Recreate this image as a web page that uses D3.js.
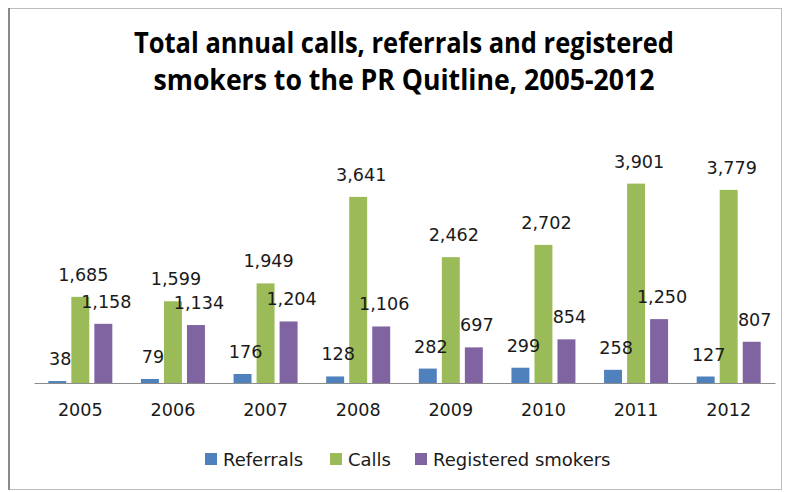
<!DOCTYPE html>
<html>
<head>
<meta charset="utf-8">
<script src="https://cdn.jsdelivr.net/npm/d3@7"></script>
<style>
  body { margin: 0; background: #fff; }
  text { font-family: "DejaVu Sans", sans-serif; fill: #1a1a1a; }
</style>
</head>
<body>
<div id="chart"></div>
<script>
// chart values
var years = ["2005", "2006", "2007", "2008", "2009", "2010", "2011", "2012"];
var referrals = [38, 79, 176, 128, 282, 299, 258, 127];
var calls = [1685, 1599, 1949, 3641, 2462, 2702, 3901, 3779];
var smokers = [1158, 1134, 1204, 1106, 697, 854, 1250, 807];
var seriesNames = ["Referrals", "Calls", "Registered smokers"];
var seriesColors = ["#4f81bd", "#9bbb59", "#8064a2"];
var titleLines = ["Total annual calls, referrals and registered",
                  "smokers to the PR Quitline, 2005-2012"];

var width = 786, height = 492;
var plot = { left: 34, right: 775, top: 153, bottom: 383 };

var svg = d3.select("#chart").append("svg")
    .attr("width", width)
    .attr("height", height);

// outer chart frame
svg.append("rect")
    .attr("x", 9.5).attr("y", 8.5)
    .attr("width", 772).attr("height", 481)
    .attr("fill", "#fff")
    .attr("stroke", "#bdbdbd");
svg.append("line")
    .attr("x1", 9).attr("x2", 9)
    .attr("y1", 8).attr("y2", 490)
    .attr("stroke", "#8a8a8a").attr("stroke-width", 2);

// title
svg.selectAll("text.title")
    .data(titleLines)
  .enter().append("text")
    .attr("class", "title")
    .attr("x", 404)
    .attr("y", (d, i) => i === 0 ? 53 : 90)
    .attr("text-anchor", "middle")
    .attr("textLength", (d, i) => i === 0 ? 540 : 501)
    .attr("lengthAdjust", "spacingAndGlyphs")
    .style("font-family", "'Open Sans', sans-serif")
    .style("font-weight", "bold")
    .style("font-size", "28px")
    .style("fill", "#000")
    .text(d => d);

var x0 = d3.scaleBand()
    .domain(years)
    .range([plot.left, plot.right]);

var x1 = d3.scaleBand()
    .domain(seriesNames)
    .range([0, 64])
    .paddingInner(0.22);

var y = d3.scaleLinear()
    .domain([0, 4500])
    .range([plot.bottom, plot.top]);

var rows = years.map((yr, i) => ({
  year: yr,
  values: [referrals[i], calls[i], smokers[i]]
}));

var groups = svg.selectAll("g.year")
    .data(rows)
  .enter().append("g")
    .attr("class", "year")
    .attr("transform", d => "translate(" + (x0(d.year) + (x0.bandwidth() - 64) / 2) + ",0)");

groups.selectAll("rect")
    .data(d => d.values.map((v, j) => ({ name: seriesNames[j], value: v, color: seriesColors[j] })))
  .enter().append("rect")
    .attr("x", d => x1(d.name))
    .attr("y", d => y(d.value))
    .attr("width", x1.bandwidth())
    .attr("height", d => y(0) - y(d.value))
    .attr("fill", d => d.color);

// data labels
var fmt = d3.format(",");
groups.selectAll("text.label")
    .data(d => d.values.map((v, j) => ({ name: seriesNames[j], value: v })))
  .enter().append("text")
    .attr("class", "label")
    .attr("x", d => x1(d.name) + x1.bandwidth() / 2 + 3)
    .attr("y", d => y(d.value) - 16)
    .attr("text-anchor", "middle")
    .style("font-size", "17.6px")
    .text(d => fmt(d.value));

// x axis
var xAxis = svg.append("g")
    .attr("transform", "translate(0," + plot.bottom + ")")
    .call(d3.axisBottom(x0).tickSize(0).tickPadding(21));
xAxis.select(".domain").attr("stroke", "#8c8c8c");
xAxis.selectAll("text")
    .style("font-family", "'DejaVu Sans', sans-serif")
    .style("font-size", "17.6px")
    .attr("fill", "#1a1a1a");

// legend
var legendX = [205, 330, 415];
var legend = svg.selectAll("g.legend")
    .data(seriesNames)
  .enter().append("g")
    .attr("class", "legend")
    .attr("transform", (d, i) => "translate(" + legendX[i] + ",453)");
legend.append("rect")
    .attr("width", 12).attr("height", 12)
    .attr("fill", (d, i) => seriesColors[i]);
legend.append("text")
    .attr("x", 18).attr("y", 12.5)
    .style("font-size", "18px")
    .text(d => d);
</script>
</body>
</html>
